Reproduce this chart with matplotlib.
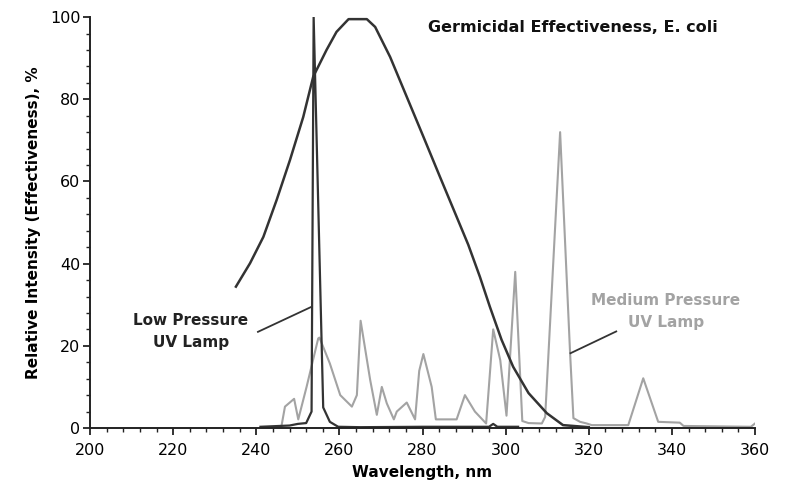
import numpy as np
import matplotlib
matplotlib.use("Agg")
import matplotlib.pyplot as plt
from matplotlib.ticker import MultipleLocator

# germicidal effectiveness, E. coli
eff_nm = [235.1, 238.5, 241.7, 244.9, 248.1, 251.3, 253.7, 256.9, 259.3, 262.2,
          266.6, 268.6, 272.2, 276.2, 280.2, 284.2, 288.2, 291.0, 293.8, 296.2,
          299.0, 301.8, 305.5, 309.9, 313.8, 320.0]
eff_pct = [34.4, 40.1, 46.5, 55.5, 65.2, 75.7, 85.5, 92.0, 96.4, 99.5,
           99.5, 97.6, 90.3, 80.6, 70.9, 61.1, 51.4, 44.6, 36.8, 29.5,
           21.5, 14.9, 8.5, 3.6, 0.7, 0.2]

# low pressure UV lamp
lp_nm = [241, 248, 250, 252, 253.3, 253.8, 256.1, 257.7, 259.7, 265, 280,
         296, 297, 298, 303]
lp_pct = [0.3, 0.6, 1.0, 1.2, 4, 100, 5, 1.5, 0.3, 0.2, 0.3, 0.3, 1.0, 0.3, 0.3]

# medium pressure UV lamp
mp_nm = [246.1, 246.9, 249.1, 250.1, 252.1, 254.9, 255.2, 257.7, 260.2, 263.0,
         264.2, 265.1, 267.4, 269.0, 270.2, 271.4, 273.1, 273.8, 276.2, 278.2,
         279.2, 280.2, 282.2, 283.2, 288.2, 290.2, 292.6, 295.3, 297.0, 298.7,
         300.2, 302.3, 304.0, 305.5, 308.7, 309.5, 313.1, 315.5, 316.3, 317.9,
         319.5, 320.7, 329.5, 333.1, 336.7, 341.9, 342.8, 359.0, 360.0]
mp_pct = [0.7, 5.2, 7.1, 2.1, 10, 21.8, 22, 15.7, 8, 5.2,
          8, 26.1, 11.7, 3.2, 10, 6, 2.1, 4, 6.2, 2.1,
          13.9, 18, 10, 2.1, 2.1, 8, 4, 1.1, 24, 16.5,
          3.0, 38, 1.7, 1.2, 1.1, 2.7, 72, 18.2, 2.4, 1.5,
          1.1, 0.7, 0.7, 12.1, 1.5, 1.3, 0.5, 0.3, 1.1]

dark = "#333333"
light = "#a3a3a3"

fig = plt.figure(figsize=(7.87, 4.84), dpi=100)
ax = fig.add_axes([0.1144, 0.1157, 0.845, 0.849])

ax.plot(mp_nm, mp_pct, color=light, lw=1.5)
ax.plot(lp_nm, lp_pct, color=dark, lw=1.6)
ax.plot(eff_nm, eff_pct, color=dark, lw=1.8)

ax.set_xlim(200, 360)
ax.set_ylim(0, 100)
ax.spines["top"].set_visible(False)
ax.spines["right"].set_visible(False)
for s in ["left", "bottom"]:
    ax.spines[s].set_linewidth(1.4)
    ax.spines[s].set_color("#222222")

ax.xaxis.set_major_locator(MultipleLocator(20))
ax.xaxis.set_minor_locator(MultipleLocator(4))
ax.yaxis.set_major_locator(MultipleLocator(20))
ax.yaxis.set_minor_locator(MultipleLocator(4))
ax.tick_params(which="major", length=5, width=1.3, labelsize=11.5, color="#222222", pad=2)
ax.tick_params(axis="x", which="major", pad=6)
ax.tick_params(which="minor", length=3, width=1.0, color="#222222")

ax.set_xlabel("Wavelength, nm", fontsize=11, fontweight="bold", labelpad=5)
ax.set_ylabel("Relative Intensity (Effectiveness), %", fontsize=11, fontweight="bold", labelpad=6)

ax.text(281.3, 97.4, "Germicidal Effectiveness, E. coli", fontsize=11.5, fontweight="bold",
        ha="left", va="center", color="#111111")

ax.text(224.2, 23.5, "Low Pressure\nUV Lamp", fontsize=11, fontweight="bold",
        ha="center", va="center", color="#222222", linespacing=1.55)
ax.plot([240.4, 253.3], [23.4, 29.5], color=dark, lw=1.3)

ax.text(338.5, 28.4, "Medium Pressure\nUV Lamp", fontsize=11, fontweight="bold",
        ha="center", va="center", color=light, linespacing=1.55)
ax.plot([315.6, 326.6], [18.2, 23.5], color=dark, lw=1.3)

fig.savefig("out.png", dpi=100)
